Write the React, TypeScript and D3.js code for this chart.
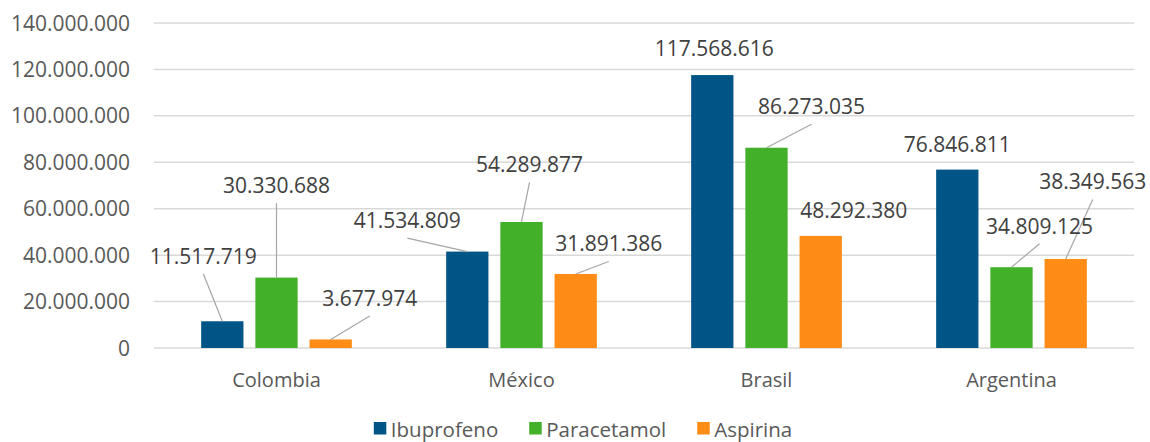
import React, { useRef, useEffect } from "react";
import { select, scaleBand, scaleLinear, range } from "d3";

const categories = ["Colombia", "México", "Brasil", "Argentina"];
const seriesNames = ["Ibuprofeno", "Paracetamol", "Aspirina"];
const ibuprofeno = [11517719, 41534809, 117568616, 76846811];
const paracetamol = [30330688, 54289877, 86273035, 34809125];
const aspirina = [3677974, 31891386, 48292380, 38349563];
const yTicks = [0, 20000000, 40000000, 60000000, 80000000, 100000000, 120000000, 140000000];

// where each data label sits, relative to the top centre of its bar
const labelOffsets = [
  [[-19, -65], [0, -92], [39, -41]],
  [[-60, -31], [8, -57], [33, -30]],
  [[2, -27], [45, -41], [33, -25]],
  [[0, -25], [28, -41], [27, -77]],
];

const colors = ["#005587", "#43B02A", "#FF8C17"];
const FONT = "'Open Sans', sans-serif";

const fmt = (v: number) => Math.round(v).toString().replace(/\B(?=(\d{3})+(?!\d))/g, ".");

export default function App() {
  const svgRef = useRef<SVGSVGElement>(null);

  useEffect(() => {
    const svg = select(svgRef.current);
    svg.selectAll("*").remove();

    const width = 1150;
    const height = 442;
    const margin = { top: 23, right: 16, bottom: 94, left: 154 };
    const values = [ibuprofeno, paracetamol, aspirina];

    const x0 = scaleBand<string>()
      .domain(categories)
      .range([margin.left, width - margin.right]);

    const x1 = scaleBand<string>()
      .domain(seriesNames)
      .range([0, x0.bandwidth()])
      .paddingInner(0.22)
      .paddingOuter(0.87);

    const y = scaleLinear()
      .domain([0, 140000000])
      .range([height - margin.bottom, margin.top]);

    // gridlines
    svg.append("g")
      .selectAll("line")
      .data(yTicks)
      .join("line")
      .attr("x1", margin.left)
      .attr("x2", width - margin.right)
      .attr("y1", d => y(d))
      .attr("y2", d => y(d))
      .attr("stroke", "#D9D9D9")
      .attr("stroke-width", 1.5);

    // y labels
    svg.append("g")
      .selectAll("text")
      .data(yTicks)
      .join("text")
      .attr("x", 130)
      .attr("y", d => y(d) + 7.5)
      .attr("text-anchor", "end")
      .attr("font-family", FONT)
      .attr("font-size", 21)
      .attr("fill", "#595959")
      .text(d => fmt(d));

    // bars
    const groups = svg.append("g")
      .selectAll("g")
      .data(categories)
      .join("g")
      .attr("transform", d => `translate(${x0(d)},0)`);

    groups.selectAll("rect")
      .data((c, ci) => seriesNames.map((s, si) => ({ s, si, v: values[si][ci] })))
      .join("rect")
      .attr("x", d => x1(d.s)!)
      .attr("width", x1.bandwidth())
      .attr("y", d => y(d.v))
      .attr("height", d => y(0) - y(d.v))
      .attr("fill", d => colors[d.si]);

    // data labels + leader lines
    const labels: { bx: number; by: number; lx: number; ly: number; text: string; leader: boolean }[] = [];
    categories.forEach((c, ci) => {
      seriesNames.forEach((s, si) => {
        const v = values[si][ci];
        const bx = x0(c)! + x1(s)! + x1.bandwidth() / 2;
        const by = y(v);
        const [dx, dy] = labelOffsets[ci][si];
        labels.push({ bx, by, lx: bx + dx, ly: by + dy, text: fmt(v), leader: dy < -28 });
      });
    });

    svg.append("g")
      .selectAll("line")
      .data(labels.filter(d => d.leader))
      .join("line")
      .attr("x1", d => d.lx)
      .attr("y1", d => d.ly + 17.5)
      .attr("x2", d => d.bx)
      .attr("y2", d => d.by)
      .attr("stroke", "#A6A6A6")
      .attr("stroke-width", 1.2);

    svg.append("g")
      .selectAll("text")
      .data(labels)
      .join("text")
      .attr("x", d => d.lx)
      .attr("y", d => d.ly + 7.5)
      .attr("text-anchor", "middle")
      .attr("font-family", FONT)
      .attr("font-size", 21)
      .attr("fill", "#404040")
      .text(d => d.text);

    // category labels
    svg.append("g")
      .selectAll("text")
      .data(categories)
      .join("text")
      .attr("x", d => x0(d)! + x0.bandwidth() / 2)
      .attr("y", 387)
      .attr("text-anchor", "middle")
      .attr("font-family", FONT)
      .attr("font-size", 20)
      .attr("fill", "#595959")
      .text(d => d);

    // legend
    const legend = svg.append("g");
    const items = legend.selectAll("g")
      .data(seriesNames)
      .join("g");
    items.append("rect")
      .attr("width", 12.5)
      .attr("height", 12.5)
      .attr("y", 422)
      .attr("fill", (d, i) => colors[i]);
    items.append("text")
      .attr("x", 17)
      .attr("y", 436.5)
      .attr("font-family", FONT)
      .attr("font-size", 20.5)
      .attr("fill", "#595959")
      .text(d => d);

    const widths: number[] = [];
    items.each(function () {
      widths.push(17 + (select(this).select("text").node() as SVGTextElement).getComputedTextLength());
    });
    const gap = 31;
    const total = widths.reduce((a, b) => a + b, 0) + gap * (widths.length - 1);
    let cx = 583 - total / 2;
    const starts = range(widths.length).map(i => {
      const s = cx;
      cx += widths[i] + gap;
      return s;
    });
    items.attr("transform", (d, i) => `translate(${starts[i]},0)`);
  }, []);

  return (
    <svg
      ref={svgRef}
      width={1150}
      height={442}
      style={{ position: "absolute", left: 0, top: 0, background: "#fff" }}
    />
  );
}
